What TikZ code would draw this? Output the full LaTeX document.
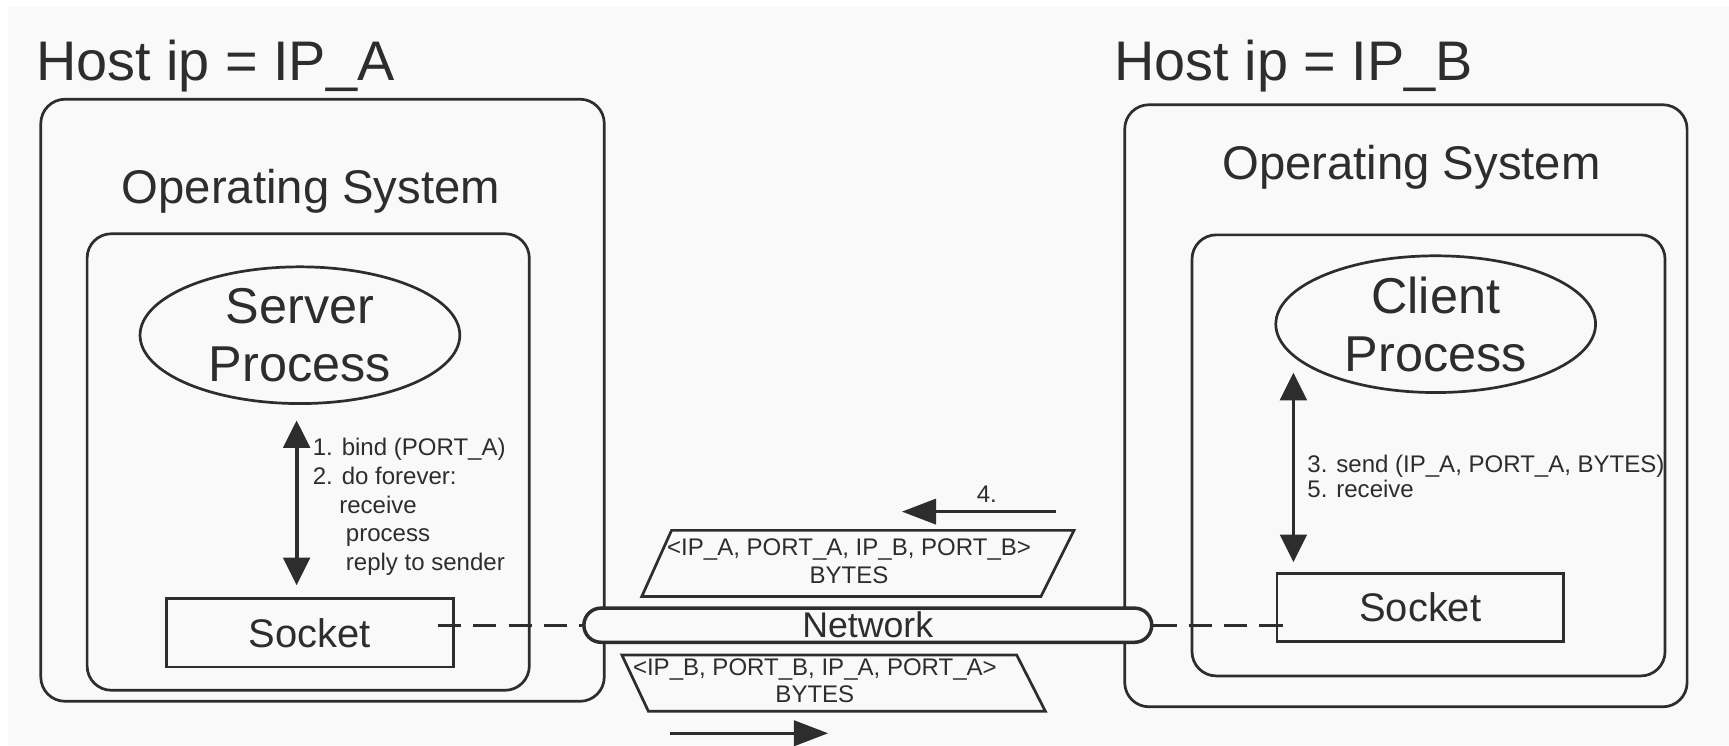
\documentclass[tikz,border=0pt]{standalone}
\usepackage{fontspec}
\setmainfont{Liberation Sans}
\usetikzlibrary{arrows.meta,shapes.geometric,calc}

\definecolor{ink}{RGB}{45,45,45}
\definecolor{paper}{RGB}{249,249,249}

\tikzset{
    box/.style={draw=ink, line width=0.7pt, rounded corners=2.2mm},
    host/.style={font=\fontsize{14.4}{17}\selectfont, text=ink, inner sep=0pt, anchor=base west},
    ostitle/.style={font=\fontsize{12.2}{14}\selectfont, text=ink, inner sep=0pt, anchor=base},
    proc/.style={ellipse, draw=ink, line width=0.7pt, minimum width=2.9cm, minimum height=1.24cm, inner sep=0pt, align=center, text=ink, font=\fontsize{13}{15}\selectfont},
    sockbox/.style={draw=ink, line width=0.7pt, minimum width=2.6cm, minimum height=0.62cm, inner sep=0pt, text=ink, font=\fontsize{10.3}{12}\selectfont},
    pill/.style={draw=ink, fill=paper, line width=0.9pt, rounded corners=1.55mm, minimum width=5.15cm, minimum height=0.31cm, inner sep=0pt, text=ink, font=\fontsize{9.2}{11}\selectfont},
    note/.style={font=\fontsize{6.2}{7.4}\selectfont, text=ink, inner sep=0pt, align=left, anchor=north west},
    pkt/.style={draw=ink, line width=0.7pt},
    pkttext/.style={font=\fontsize{6.2}{7}\selectfont, text=ink, inner sep=0pt, align=center},
    wire/.style={draw=ink, line width=0.7pt, dash pattern=on 2.1mm off 1.1mm},
    talk/.style={draw=ink, line width=1pt, {Triangle[length=2.5mm,width=2.4mm]}-{Triangle[length=2.5mm,width=2.4mm]}},
    flow/.style={draw=ink, line width=0.75pt, -{Triangle[length=3.1mm,width=2.3mm]}},
}

\begin{document}
\begin{tikzpicture}[x=0.1mm, y=-0.1mm]
    % Draw background
    \useasboundingbox (0,0) rectangle (1568,676);
    \fill[paper] (7,6) rectangle (1568,676);

    % Draw host A (server side)
    \node[host] (hostA) at (32,73) {Host ip = IP\_A};
    \draw[box] (37,90) rectangle (548,636);
    \node[ostitle] (osA) at (282,185) {Operating System};
    \draw[box] (79,212) rectangle (480,626);
    \node[proc] (server) at (272,304) {Server\\Process};
    \node[sockbox] (sockA) at (281,574) {Socket};

    % Draw host B (client side)
    \node[host] (hostB) at (1010,73) {Host ip = IP\_B};
    \draw[box] (1020,95) rectangle (1530,641);
    \node[ostitle] (osB) at (1280,163) {Operating System};
    \draw[box] (1081,213) rectangle (1510,613);
    \node[proc] (client) at (1302,294) {Client\\Process};
    \node[sockbox] (sockB) at (1288,551) {Socket};

    % Draw network link
    \node[pill] (net) at (787,567) {Network};
    \draw[wire] ($(net.west -| sockA.east)+(-15,0)$) -- (net.west);
    \draw[wire] (net.east) -- ($(net.east -| sockB.west)+(17,0)$);

    % Draw calls between process and socket
    \draw[talk] ($(server.south)+(-3,14)$) -- ($(sockA.north)+(-12,-11)$);
    \draw[talk] ($(client.center)+(-129,44)$) -- ($(sockB.north)+(-115,-9)$);
    \node[note] (bindA) at (283,397) {1. bind (PORT\_A)\\2. do forever:\\\hspace*{2.4mm}receive\\\hspace*{3mm}process\\\hspace*{3mm}reply to sender};
    \node[note, font=\fontsize{6.2}{6.4}\selectfont] (sendB) at (1185,412) {3. send (IP\_A, PORT\_A, BYTES)\\5. receive};

    % Draw packets on the wire
    \draw[pkt] (609,481) -- (974,481) -- (944,541) -- (582,541) -- cycle;
    \node[pkttext] (pktAB) at (770,509) {<IP\_A, PORT\_A, IP\_B, PORT\_B>\\BYTES};
    \draw[pkt] (564,594) -- (922,594) -- (948,645) -- (588,645) -- cycle;
    \node[pkttext] (pktBA) at (739,617) {<IP\_B, PORT\_B, IP\_A, PORT\_A>\\BYTES};

    % Draw direction arrows
    \node[pkttext] (step4) at (895,448) {4.};
    \coordinate (fromB) at (958,464);
    \coordinate (toA) at (818,464);
    \draw[flow] (fromB) -- (toA);
    \coordinate (fromA) at (608,665);
    \coordinate (toB) at (751,665);
    \draw[flow] (fromA) -- (toB);
\end{tikzpicture}
\end{document}
